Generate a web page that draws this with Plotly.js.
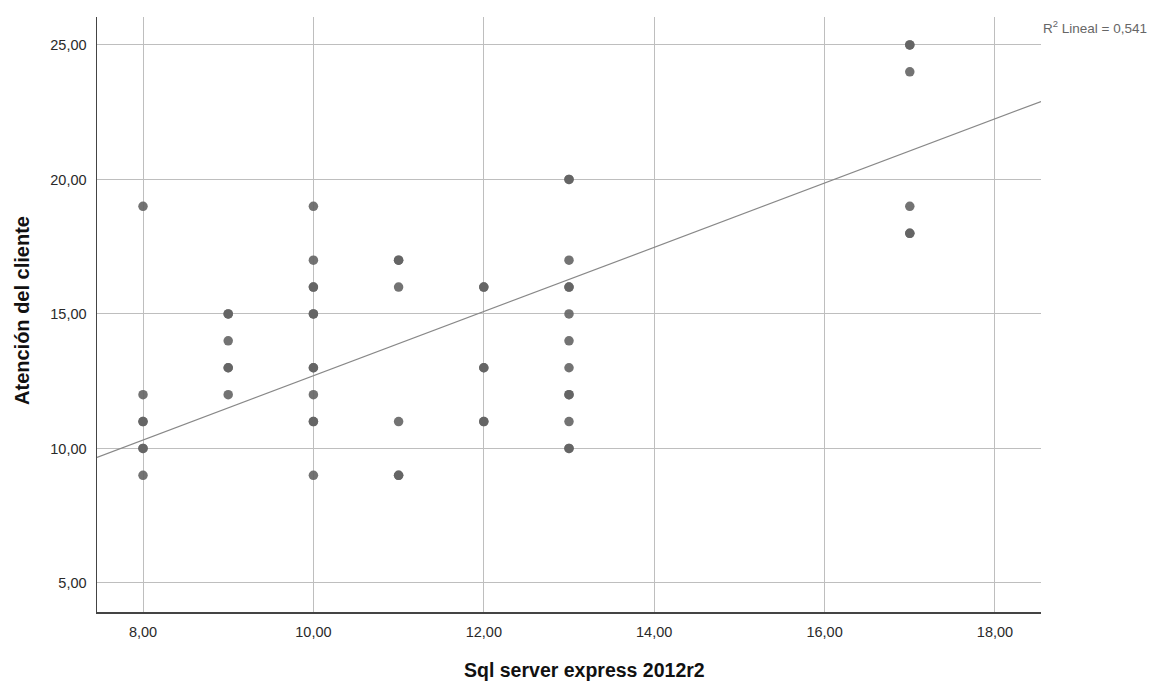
<!DOCTYPE html>
<html>
<head>
<meta charset="utf-8">
<script src="https://cdn.plot.ly/plotly-3.0.1.min.js"></script>
<style>html,body{margin:0;padding:0;background:#fff;}#chart{width:1157px;height:684px;}</style>
</head>
<body>
<div id="chart"></div>
<script>
// Sql server express 2012r2 (x) vs Atención del cliente (y); repeated pairs appear darker
const sqlServer = [8,8,8,8,8,8,8, 9,9,9,9,9,9, 10,10,10,10,10,10,10,10,10,10,10,10, 11,11,11,11,11,11, 12,12,12,12,12,12, 13,13,13,13,13,13,13,13,13,13,13,13,13, 17,17,17,17,17,17];
const atencion  = [19,12,11,11,10,10,9, 15,15,14,13,13,12, 19,17,16,16,15,15,13,13,12,11,11,9, 17,17,16,11,9,9, 16,16,13,13,11,11, 20,20,17,16,16,15,14,13,12,12,11,10,10, 25,25,24,19,18,18];
// Fitted line
const fitX = [7.46, 18.54];
const fitSlope = 1.194;
const fitIntercept = 0.76;
const r2Label = "R<sup>2</sup> Lineal = 0,541";
const xTitle = "<b>Sql server express 2012r2</b>";
const yTitle = "<b>Atención del cliente</b>";
const xTicks = [8,10,12,14,16,18];
const yTicks = [5,10,15,20,25];

const fitY = fitX.map(v => fitIntercept + fitSlope * v);

const data = [
  {x: fitX, y: fitY, mode: 'lines', type: 'scatter', line: {color: '#888', width: 1.2}, hoverinfo: 'skip', showlegend: false},
  {x: sqlServer, y: atencion, mode: 'markers', type: 'scatter',
   marker: {color: 'rgba(100,100,100,0.9)', size: 9.5, line: {width: 0}}, showlegend: false}
];

const layout = {
  width: 1157, height: 684,
  margin: {l: 97, r: 116, t: 17, b: 72},
  paper_bgcolor: '#fff', plot_bgcolor: '#fff',
  separators: ',.',
  font: {family: 'Liberation Sans, Arial, sans-serif', color: '#333', size: 14},
  xaxis: {
    range: [7.46, 18.54], tickvals: xTicks, tickformat: '.2f',
    showgrid: true, gridcolor: '#bebebe', gridwidth: 1,
    showline: true, linecolor: '#444', linewidth: 1.5,
    zeroline: false, ticks: 'outside', ticklen: 6, tickcolor: 'rgba(0,0,0,0)',
    tickfont: {size: 14.5, color: '#2a2a2a'}
  },
  yaxis: {
    range: [3.92, 26.04], tickvals: yTicks, tickformat: '.2f',
    showgrid: true, gridcolor: '#bebebe', gridwidth: 1,
    showline: true, linecolor: '#444', linewidth: 1.5,
    zeroline: false, ticks: 'outside', ticklen: 6, tickcolor: 'rgba(0,0,0,0)',
    tickfont: {size: 14.5, color: '#2a2a2a'}
  },
  annotations: [
    {xref: 'paper', yref: 'paper', x: 1.0, y: 0.983, xanchor: 'left', yanchor: 'middle',
     xshift: 0, text: r2Label, showarrow: false, font: {size: 13.5, color: '#666'}},
    {xref: 'paper', yref: 'paper', x: 0.516, y: -0.0975, xanchor: 'center', yanchor: 'middle',
     text: xTitle, showarrow: false, font: {size: 19.5, color: '#111'}},
    {xref: 'paper', yref: 'paper', x: -0.0794, y: 0.506, xanchor: 'center', yanchor: 'middle',
     text: yTitle, textangle: -90, showarrow: false, font: {size: 20, color: '#111'}}
  ]
};

Plotly.newPlot('chart', data, layout, {displayModeBar: false, staticPlot: true});
</script>
</body>
</html>
